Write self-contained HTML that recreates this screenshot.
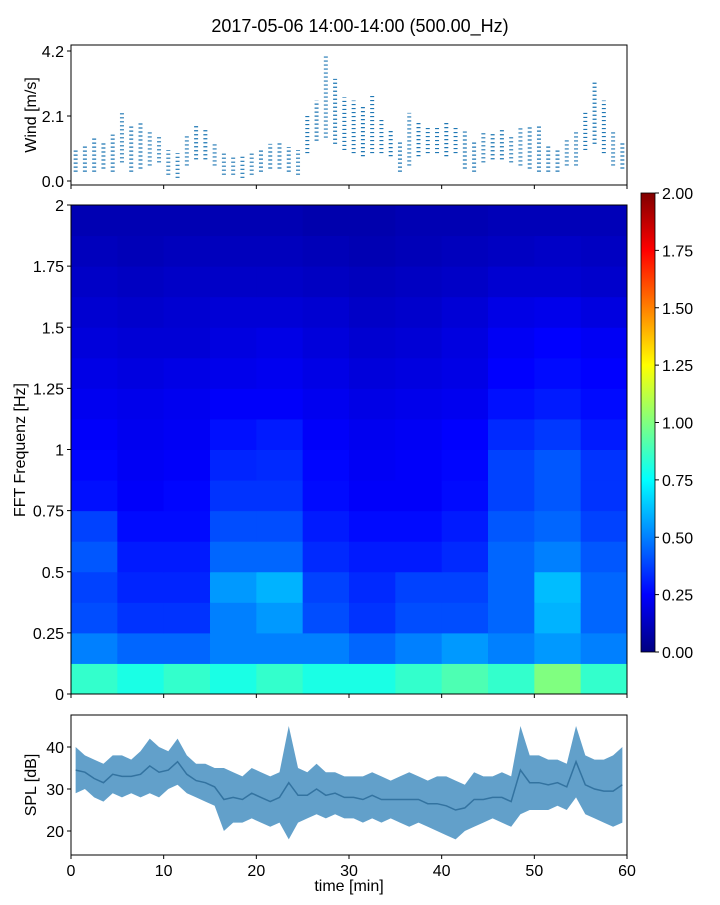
<!DOCTYPE html>
<html><head><meta charset="utf-8"><style>
body{margin:0;background:#fff;}
svg text{font-family:"Liberation Sans",sans-serif;fill:#000;}
</style></head><body>
<svg id="fig" width="720" height="900" xmlns="http://www.w3.org/2000/svg">
<text x="360" y="32" font-size="18" text-anchor="middle">2017-05-06 14:00-14:00 (500.00_Hz)</text>
<g id="wind"></g>
<g id="spec"></g>
<g id="cbar"></g>
<g id="spl"></g>
</svg>
<script>
const minutes=[...Array(60).keys()];
const windLow=[0.3,0.3,0.3,0.4,0.3,0.6,0.3,0.4,0.5,0.6,0.2,0.1,0.5,0.7,0.7,0.5,0.2,0.2,0.1,0.2,0.3,0.4,0.4,0.3,0.2,0.9,1.3,1.4,1.2,1.0,0.9,0.8,0.9,0.9,0.8,0.3,0.5,0.8,0.9,0.9,0.8,0.9,0.4,0.3,0.6,0.7,0.7,0.6,0.5,0.4,0.3,0.3,0.3,0.5,0.5,1.0,1.2,0.9,0.5,0.4];
const windHigh=[1.0,1.2,1.4,1.3,1.5,2.2,1.8,1.9,1.6,1.5,1.0,0.9,1.5,1.8,1.7,1.2,0.9,0.8,0.8,0.9,1.0,1.2,1.3,1.1,1.0,2.1,2.6,4.1,3.3,2.7,2.6,2.4,2.8,2.0,1.7,1.3,2.2,1.9,1.8,1.8,1.9,1.8,1.6,1.3,1.6,1.6,1.7,1.5,1.7,1.8,1.8,1.2,1.0,1.4,1.6,2.2,3.2,2.6,1.6,1.3];
const splLow=[29,30,28,27,29,28,29,28,29,28,30,31,29,28,27,26,20,22,22,23,22,21,22,18,22,23,24,23,24,23,23,22,23,22,23,22,21,22,21,20,19,18,20,21,22,23,22,21,24,25,25,25,26,25,28,24,23,22,21,22];
const splHigh=[40,38,37,36,38,38,37,39,42,40,39,42,38,36,36,35,35,34,33,35,34,33,34,45,35,34,36,34,34,33,33,33,34,33,32,33,34,33,32,33,33,32,31,34,33,33,34,33,45,38,38,37,37,36,45,38,37,37,38,40];
const freqBands=[0,0.125,0.25,0.375,0.5,0.625,0.75,0.875,1,1.125,1.25,1.375,1.5,1.625,1.75,1.875];
const timeBlocks=[0,5,10,15,20,25,30,35,40,45,50,55];
const specVals=[
[0.85,0.8,0.85,0.8,0.85,0.8,0.8,0.85,0.9,0.85,1.0,0.85],
[0.5,0.45,0.45,0.5,0.5,0.5,0.45,0.5,0.55,0.5,0.55,0.5],
[0.4,0.35,0.35,0.5,0.55,0.4,0.35,0.4,0.4,0.45,0.6,0.45],
[0.38,0.32,0.32,0.55,0.6,0.38,0.33,0.38,0.38,0.45,0.62,0.45],
[0.42,0.3,0.3,0.45,0.45,0.33,0.3,0.3,0.33,0.45,0.5,0.42],
[0.38,0.27,0.27,0.4,0.4,0.3,0.27,0.27,0.3,0.42,0.45,0.38],
[0.28,0.24,0.26,0.35,0.35,0.27,0.24,0.24,0.27,0.38,0.42,0.35],
[0.26,0.23,0.24,0.32,0.33,0.26,0.23,0.24,0.26,0.38,0.42,0.35],
[0.24,0.22,0.23,0.28,0.3,0.24,0.22,0.23,0.25,0.33,0.36,0.3],
[0.22,0.21,0.22,0.24,0.24,0.22,0.2,0.21,0.22,0.28,0.3,0.27],
[0.2,0.19,0.2,0.21,0.22,0.2,0.18,0.19,0.2,0.25,0.27,0.25],
[0.18,0.17,0.17,0.19,0.2,0.18,0.16,0.17,0.19,0.23,0.25,0.23],
[0.16,0.15,0.16,0.17,0.17,0.16,0.14,0.15,0.17,0.2,0.21,0.19],
[0.14,0.13,0.14,0.14,0.14,0.13,0.12,0.13,0.14,0.16,0.16,0.15],
[0.12,0.11,0.12,0.12,0.12,0.11,0.1,0.11,0.12,0.13,0.14,0.13],
[0.1,0.1,0.1,0.1,0.1,0.09,0.09,0.1,0.1,0.11,0.11,0.11]];
const windTicks=[0.0,2.1,4.2];
const specTicks=[0,0.25,0.5,0.75,1,1.25,1.5,1.75,2];
const cbarTicks=[0,0.25,0.5,0.75,1,1.25,1.5,1.75,2];
const splTicks=[20,30,40];
const timeTicks=[0,10,20,30,40,50,60];

const NS="http://www.w3.org/2000/svg";
const FS=16;
function mk(p,t,a){const e=document.createElementNS(NS,t);for(const k in a)e.setAttribute(k,a[k]);p.appendChild(e);return e;}
const X0=71,X1=627;
const xs=t=>X0+(t/60)*(X1-X0);
function jet(v){const x=Math.max(0,Math.min(1,v/2));const c=f=>Math.round(255*Math.max(0,Math.min(1,f)));
return `rgb(${c(1.5-Math.abs(4*x-3))},${c(1.5-Math.abs(4*x-2))},${c(1.5-Math.abs(4*x-1))})`;}
function frame(g,y0,y1,name){const r=mk(g,'rect',{x:X0,y:y0,width:X1-X0,height:y1-y0,fill:'none',stroke:'#000','stroke-width':1});
}
function xticks(g,y1,labels){timeTicks.forEach(t=>{const l=mk(g,'line',{x1:xs(t),x2:xs(t),y1:y1,y2:y1+4,stroke:'#000'});

if(labels){const tx=mk(g,'text',{x:xs(t),y:y1+21,'font-size':FS,'text-anchor':'middle'});tx.textContent=t;
}});}
function yticks(g,ticks,ys,fmt){ticks.forEach(v=>{const y=ys(v);const l=mk(g,'line',{x1:X0-4,x2:X0,y1:y,y2:y,stroke:'#000'});

const tx=mk(g,'text',{x:X0-7,y:y+6,'font-size':FS,'text-anchor':'end'});tx.textContent=fmt(v);
});}
function ylabel(g,txt,cx,cy,name){const t=mk(g,'text',{x:0,y:0,'font-size':FS,'text-anchor':'middle',transform:`translate(${cx},${cy}) rotate(-90)`});
t.textContent=txt;}

// wind
const gw=document.getElementById('wind');
const wy=v=>181-(v/4.2)*130;
minutes.forEach(m=>{const l=mk(gw,'line',{x1:xs(m+0.5),x2:xs(m+0.5),y1:wy(windLow[m]),y2:wy(windHigh[m]),stroke:'#1f77b4','stroke-width':4,'stroke-dasharray':'1.2 2.8'});
});
frame(gw,45,185,'wind-axes');xticks(gw,185,false);
yticks(gw,windTicks,wy,v=>v.toFixed(1));ylabel(gw,'Wind [m/s]',36,115,'wind-y-axis-title');

// spectrogram
const gs=document.getElementById('spec');
const sy=f=>694-(f/2)*489;
specVals.forEach((row,i)=>row.forEach((v,j)=>{const r=mk(gs,'rect',{x:xs(timeBlocks[j]),y:sy(freqBands[i]+0.125),width:xs(5)-X0+0.5,height:sy(0)-sy(0.125)+0.5,fill:jet(v)});
}));
frame(gs,205,694,'spectrogram-axes');xticks(gs,694,false);
yticks(gs,specTicks,sy,v=>String(v));ylabel(gs,'FFT Frequenz [Hz]',25,450,'spectrogram-y-axis-title');

// colorbar
const gc=document.getElementById('cbar');
const defs=mk(gc,'defs',{});const lg=mk(defs,'linearGradient',{id:'jetg',x1:0,y1:1,x2:0,y2:0});
for(let i=0;i<=8;i++)mk(lg,'stop',{offset:i/8,'stop-color':jet(i/4)});
const cr=mk(gc,'rect',{x:641,y:193,width:14,height:459,fill:'url(#jetg)',stroke:'#000','stroke-width':0.8});

cbarTicks.forEach(v=>{const y=652-(v/2)*459;mk(gc,'line',{x1:655,x2:659,y1:y,y2:y,stroke:'#000'});
const t=mk(gc,'text',{x:662,y:y+6,'font-size':FS});t.textContent=v.toFixed(2);
});

// spl
const gp=document.getElementById('spl');
const py=v=>831-(v-20)*4.2;
let pts=minutes.map(m=>`${xs(m+0.5)},${py(splHigh[m])}`).concat(minutes.slice().reverse().map(m=>`${xs(m+0.5)},${py(splLow[m])}`));
const pa=mk(gp,'polygon',{points:pts.join(' '),fill:'#1f77b4','fill-opacity':0.7});

const pl=mk(gp,'polyline',{points:minutes.map(m=>`${xs(m+0.5)},${py((splLow[m]+splHigh[m])/2)}`).join(' '),fill:'none',stroke:'#1f5f8f','stroke-width':1.5,'stroke-opacity':0.7});

frame(gp,715,855,'spl-axes');xticks(gp,855,true);
yticks(gp,splTicks,py,v=>String(v));ylabel(gp,'SPL [dB]',36,785,'spl-y-axis-title');
const xl=mk(gp,'text',{x:349,y:891,'font-size':FS,'text-anchor':'middle'});xl.textContent='time [min]';

</script>
</body></html>
